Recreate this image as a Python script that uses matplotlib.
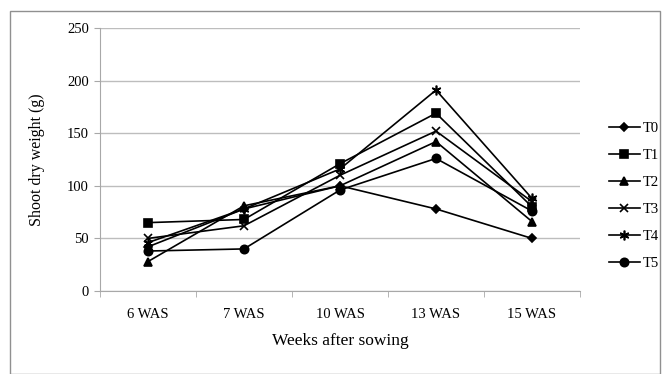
import numpy as np
import matplotlib.pyplot as plt
from matplotlib.patches import Rectangle

weeks = ["6 WAS", "7 WAS", "10 WAS", "13 WAS", "15 WAS"]
T0 = [42, 78, 100, 78, 50]
T1 = [65, 68, 121, 169, 80]
T2 = [28, 81, 100, 142, 66]
T3 = [50, 62, 110, 152, 85]
T4 = [46, 78, 116, 191, 88]
T5 = [38, 40, 96, 126, 76]
names = ["T0", "T1", "T2", "T3", "T4", "T5"]
markers = ["D", "s", "^", "x", (6, 2, 0), "o"]
sizes = [4.5, 6, 6, 6, 7, 6]

plt.rcParams['font.family'] = ['Liberation Serif', 'DejaVu Serif']

fig = plt.figure(figsize=(6.67, 3.74), dpi=100)
ax = fig.add_axes([100/667, 1-291/374, 480/667, 263/374])

x = np.arange(len(weeks))
for name, vals, m, s in zip(names, [T0, T1, T2, T3, T4, T5], markers, sizes):
    ax.plot(x, vals, color='black', lw=1.2, marker=m, ms=s, mew=1.2, label=name)

ax.set_xlim(-0.5, 4.5)
ax.set_ylim(0, 250)
ax.set_yticks(np.arange(0, 251, 50))
ax.set_xticks(x)
ax.set_xticklabels(weeks)
ax.set_xticks(np.arange(-0.5, 4.6, 1), minor=True)
ax.tick_params(axis='x', which='major', length=0, pad=12, labelsize=10.5)
ax.tick_params(axis='x', which='minor', length=4, color='#a8a8a8')
ax.tick_params(axis='y', length=4, color='#a8a8a8', labelsize=10.5, pad=4)
ax.grid(axis='y', color='#bdbdbd', lw=1)
ax.set_axisbelow(True)
for sp in ['top', 'right']:
    ax.spines[sp].set_visible(False)
for sp in ['left', 'bottom']:
    ax.spines[sp].set_color('#a8a8a8')

ax.set_ylabel("Shoot dry weight (g)", fontsize=11.5, labelpad=16)
ax.set_xlabel("Weeks after sowing", fontsize=12.5, labelpad=9)

ax.legend(loc='center left', bbox_to_anchor=(596/667, 1-196/374), bbox_transform=fig.transFigure,
          frameon=False, fontsize=10.5, handlelength=2.1, handletextpad=0.2, labelspacing=0.95)

fig.patches.append(Rectangle((10/667, 0.0), 650/667, 1-11/374, transform=fig.transFigure,
                             fill=False, edgecolor='#909090', lw=1))

fig.savefig('out.png', dpi=100)
